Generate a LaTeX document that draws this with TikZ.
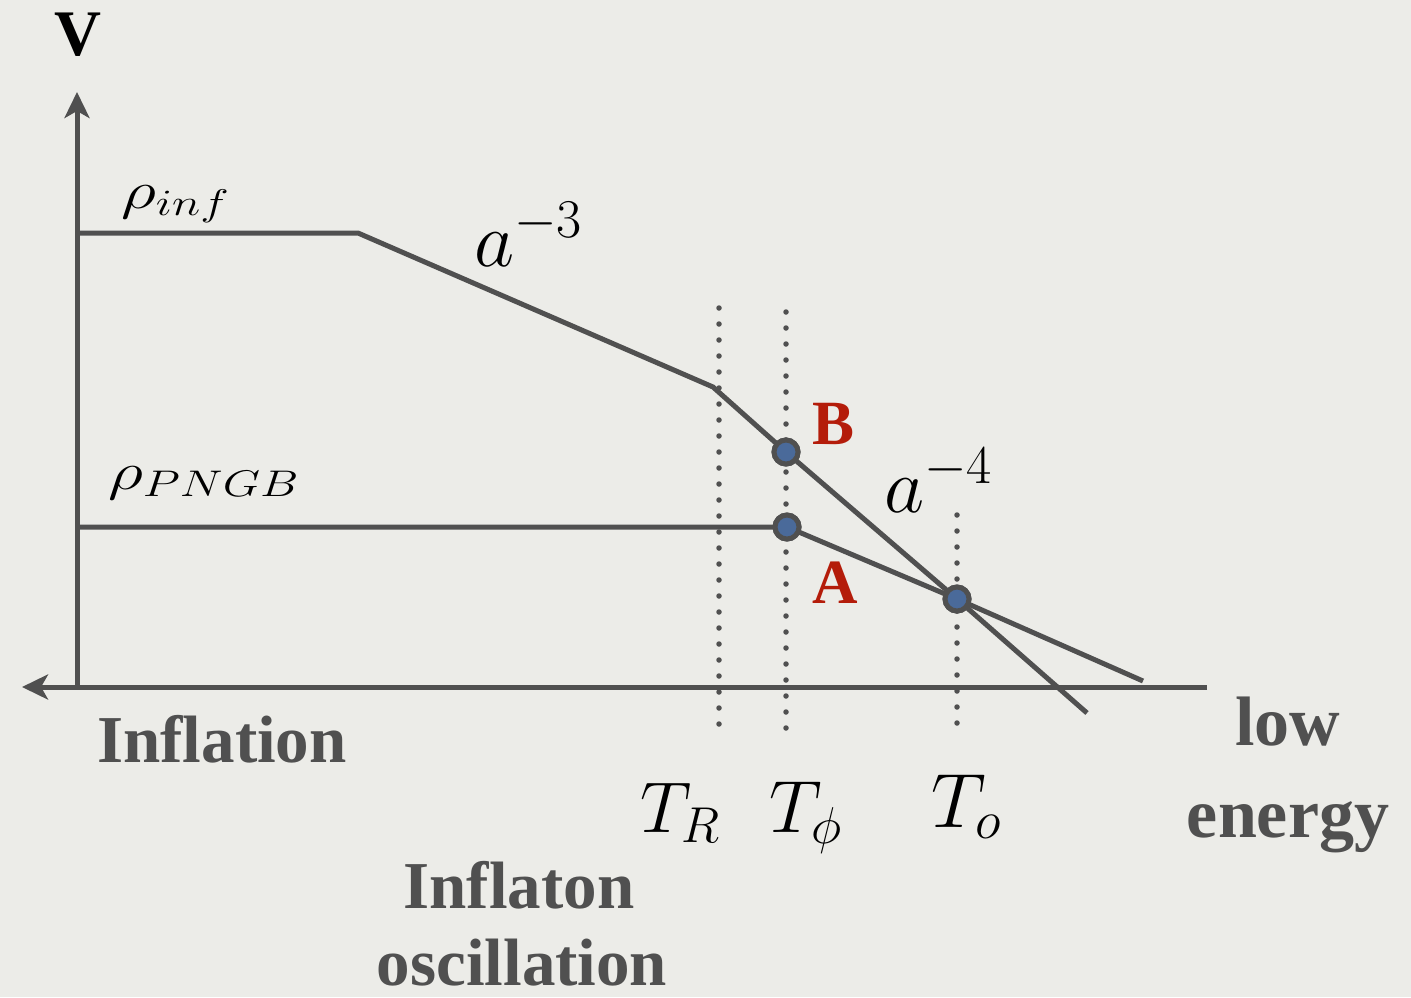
\RequirePackage{fix-cm}
\documentclass[tikz,border=0pt]{standalone}
\usepackage{fontspec}
\usetikzlibrary{arrows.meta}
\newfontfamily\labelfont{Liberation Serif}
\definecolor{bg}{RGB}{236,236,232}
\definecolor{ln}{RGB}{80,80,80}
\definecolor{dotblue}{RGB}{74,106,154}
\definecolor{lblred}{RGB}{180,28,10}
\tikzset{
  curve/.style={draw=ln, line width=5pt},
  axis/.style={draw=ln, line width=5pt, -{Stealth[length=26pt,width=25pt,inset=7pt]}},
  vdots/.style={draw=ln, line width=5.5pt, line cap=round, dash pattern=on 0pt off 16pt},
  pt/.style={circle, draw=ln, line width=5pt, fill=dotblue, minimum size=24pt, inner sep=0pt},
  mlabel/.style={inner sep=0pt, anchor=base west, font=\fontsize{72}{80}\selectfont},
  wlabel/.style={inner sep=0pt, anchor=base, text=ln, font=\labelfont\bfseries\fontsize{67}{70}\selectfont},
  rlabel/.style={inner sep=0pt, anchor=base, text=lblred, font=\labelfont\bfseries\fontsize{63}{70}\selectfont},
}
\begin{document}
\begin{tikzpicture}[x=1pt,y=-1pt]
\useasboundingbox (0,0) rectangle (1411,997);
\fill[bg] (0,0) rectangle (1411,997);
% axis coordinates
\coordinate (o) at (77,687);
\coordinate (ytop) at (77,92);
\coordinate (xleft) at (22,687);
\coordinate (xright) at (1207,687);
\draw[axis] (o) -- (ytop);
\draw[axis] (xright) -- (xleft);
% curve points
\coordinate (i0) at (77,233);
\coordinate (i1) at (358,233);
\coordinate (i2) at (713,387);
\coordinate (iend) at (1087,713);
\coordinate (p0) at (77,527);
\coordinate (pend) at (1143,681);
% dotted verticals
\coordinate (r0) at (719,308); \coordinate (r1) at (719,728);
\coordinate (f0) at (786,312); \coordinate (f1) at (786,730);
\coordinate (t0) at (957,515); \coordinate (t1) at (957,725);
\draw[vdots] (r0) -- (r1);
\draw[vdots] (f0) -- (f1);
\draw[vdots] (t0) -- (t1);
% curves
\node[pt] (B) at (786,452) {};
\node[pt] (A) at (787,527) {};
\node[pt] (C) at (957,599) {};
\draw[curve] (i0) -- (i1) -- (i2) -- (B.center) -- (C.center) -- (iend);
\draw[curve] (p0) -- (A.center) -- (C.center) -- (pend);
\node[pt] at (B) {};
\node[pt] at (A) {};
\node[pt] at (C) {};
% labels
\node[inner sep=0pt, anchor=base, font=\labelfont\bfseries\fontsize{65}{70}\selectfont] (V) at (78,55) {V};
\node[mlabel, font=\fontsize{53}{60}\selectfont] (rinf) at (121,208) {\scalebox{1.3}[1]{$\rho_{inf}$}};
\node[mlabel, font=\fontsize{78}{80}\selectfont] (am3) at (474,266) {$a^{-3}$};
\node[mlabel, font=\fontsize{78}{80}\selectfont] (am4) at (884,512) {$a^{-4}$};
\node[mlabel, font=\fontsize{53}{60}\selectfont] (rpngb) at (108,489) {\scalebox{1.3}[1]{$\rho_{PNGB}$}};
\node[rlabel] (Blbl) at (834,444) {B};
\node[rlabel] (Albl) at (835,603) {A};
\node[mlabel] (TR) at (640,832) {$T_R$};
\node[mlabel, font=\fontsize{74}{80}\selectfont] (Tphi) at (769,832) {$T_\phi$};
\node[mlabel, font=\fontsize{77}{80}\selectfont] (To) at (931,827) {$T_o$};
\node[wlabel] (infl) at (222,762) {Inflation};
\node[wlabel, font=\labelfont\bfseries\fontsize{70}{70}\selectfont] (low) at (1288,745) {low};
\node[wlabel, font=\labelfont\bfseries\fontsize{70}{70}\selectfont] (energy) at (1288,837) {energy};
\node[wlabel] (inflaton) at (519,908) {Inflaton};
\node[wlabel] (osc) at (522,985) {oscillation};
\end{tikzpicture}
\end{document}
